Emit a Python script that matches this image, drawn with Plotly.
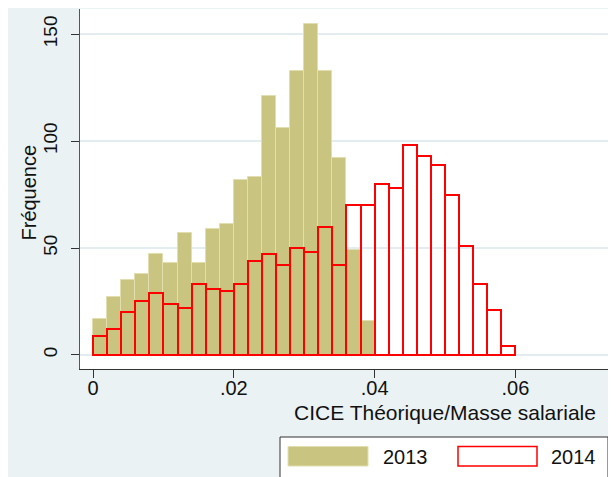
import numpy as np
import plotly.graph_objects as go

# ---- data ----
bin_width = 0.002
counts_2013 = [17, 27, 35, 38, 47, 43, 57, 43, 59, 61, 82, 83, 121, 106, 133, 155, 133, 92, 49, 16]
counts_2014 = [9, 12, 20, 25, 29, 24, 22, 33, 31, 30, 33, 44, 47, 42, 50, 48, 60, 42, 70, 70,
               80, 78, 98, 93, 89, 75, 51, 33, 21, 4]
x_tick_vals = [0, 0.02, 0.04, 0.06]
x_tick_text = ["0", ".02", ".04", ".06"]
y_tick_vals = [0, 50, 100, 150]
y_tick_text = ["0", "50", "100", "150"]
series_names = ["2013", "2014"]
x_title = "CICE Théorique/Masse salariale"
y_title = "Fréquence"

centers_2013 = [bin_width * (i + 0.5) for i in range(len(counts_2013))]
centers_2014 = [bin_width * (i + 0.5) for i in range(len(counts_2014))]

OLIVE = "#C9C47F"
OLIVE_EDGE = "#E2DEB0"
RED = "#FF0000"
BG = "#EAF2F3"
FONT = "Liberation Sans, Arial, sans-serif"

fig = go.Figure()
fig.add_trace(go.Bar(x=centers_2013, y=counts_2013, width=bin_width, name=series_names[0],
                     marker=dict(color=OLIVE, line=dict(color=OLIVE_EDGE, width=1)),
                     showlegend=False))
fig.add_trace(go.Bar(x=centers_2014, y=counts_2014, width=bin_width, name=series_names[1],
                     marker=dict(color="rgba(0,0,0,0)", line=dict(color=RED, width=2)),
                     showlegend=False))

# page body has an 8px margin: work in reference-pixel coordinates minus OFF
OFF = 8
W, H = 616 - OFF, 477 - OFF
L, T = 80 - OFF, 9 - OFF
R = W - (614 - OFF)
B = H - (369 - OFF)
pw, ph = W - L - R, H - T - B

def px(x):
    return (x - OFF - L) / pw

def py(y):
    return (H - B - (y - OFF)) / ph

fig.update_layout(
    width=W, height=H,
    margin=dict(l=L, r=R, t=T, b=B),
    paper_bgcolor=BG, plot_bgcolor="white",
    barmode="overlay", bargap=0,
    font=dict(family=FONT, size=20, color="#111"),
    xaxis=dict(range=[-0.00185, 0.0740], tickvals=x_tick_vals, ticktext=x_tick_text,
               showgrid=False, zeroline=False, showline=True, linecolor="#333", linewidth=1,
               ticks="outside", ticklen=8, tickcolor="#333", tickfont=dict(size=20),
               ticklabelstandoff=-7),
    yaxis=dict(range=[-6.6, 161.8], tickvals=y_tick_vals, ticktext=y_tick_text,
               showgrid=True, gridcolor="#E3ECEE", gridwidth=2, zeroline=False,
               showline=True, linecolor="#555", linewidth=1,
               ticks="outside", ticklen=8, tickcolor="#333", tickangle=-90,
               tickfont=dict(size=19), ticklabelstandoff=6),
)

fig.add_annotation(text=y_title, xref="paper", yref="paper", x=px(28), y=py(192.5),
                   showarrow=False, textangle=-90, xanchor="center", yanchor="middle",
                   font=dict(size=20))
fig.add_annotation(text=x_title, xref="paper", yref="paper", x=px(598), y=py(412),
                   showarrow=False, xanchor="right", yanchor="middle", font=dict(size=21))

# legend (drawn manually to match the wide swatches)
fig.add_shape(type="rect", xref="paper", yref="paper", x0=px(280), x1=px(608), y0=py(437), y1=py(480),
              line=dict(color="#333", width=1), fillcolor="white", layer="above")
fig.add_shape(type="rect", xref="paper", yref="paper", x0=px(288), x1=px(368), y0=py(446.5), y1=py(466),
              line=dict(color=OLIVE_EDGE, width=1), fillcolor=OLIVE, layer="above")
fig.add_shape(type="rect", xref="paper", yref="paper", x0=px(458), x1=px(537), y0=py(446.5), y1=py(466),
              line=dict(color=RED, width=1.5), fillcolor="white", layer="above")
fig.add_annotation(text=series_names[0], xref="paper", yref="paper", x=px(381), y=py(457),
                   showarrow=False, xanchor="left", yanchor="middle", font=dict(size=20))
fig.add_annotation(text=series_names[1], xref="paper", yref="paper", x=px(549), y=py(457),
                   showarrow=False, xanchor="left", yanchor="middle", font=dict(size=20))

fig.write_html("out.html")
